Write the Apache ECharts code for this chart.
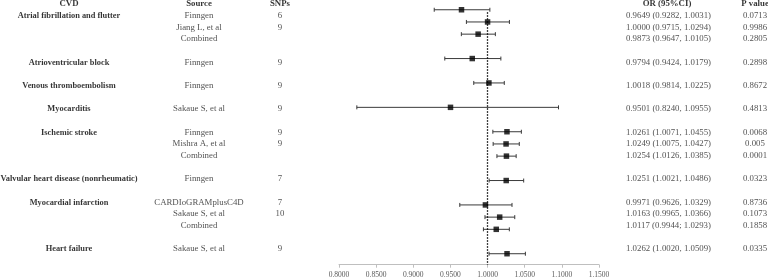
<!DOCTYPE html>
<html><head><meta charset="utf-8">
<script src="https://cdn.jsdelivr.net/npm/echarts@6/dist/echarts.min.js"></script>
<style>html,body{margin:0;padding:0;background:#fff}#c{width:768px;height:279px}</style>
</head><body><div id="c"></div>
<script>
// ---- data ----
const cvdNames = ['Atrial fibrillation and flutter','Atrioventricular block','Venous thromboembolism','Myocarditis','Ischemic stroke','Valvular heart disease (nonrheumatic)','Myocardial infarction','Heart failure'];
const cvdRows = [0,4,6,8,10,14,16,20];
const rowIdx = [0,1,2,4,6,8,10,11,12,14,16,17,18,20];
const sources = ['Finngen','Jiang L, et al','Combined','Finngen','Finngen','Sakaue S, et al','Finngen','Mishra A, et al','Combined','Finngen','CARDIoGRAMplusC4D','Sakaue S, et al','Combined','Sakaue S, et al'];
const snps = ['6','9','','9','9','9','9','9','','7','7','10','','9'];
const orVals = [0.9649,1.0000,0.9873,0.9794,1.0018,0.9501,1.0261,1.0249,1.0254,1.0251,0.9971,1.0163,1.0117,1.0262];
const ciLow = [0.9282,0.9715,0.9647,0.9424,0.9814,0.8240,1.0071,1.0075,1.0126,1.0021,0.9626,0.9965,0.9944,1.0020];
const ciHigh = [1.0031,1.0294,1.0105,1.0179,1.0225,1.0955,1.0455,1.0427,1.0385,1.0486,1.0329,1.0366,1.0293,1.0509];
const orText = ['0.9649 (0.9282, 1.0031)','1.0000 (0.9715, 1.0294)','0.9873 (0.9647, 1.0105)','0.9794 (0.9424, 1.0179)','1.0018 (0.9814, 1.0225)','0.9501 (0.8240, 1.0955)','1.0261 (1.0071, 1.0455)','1.0249 (1.0075, 1.0427)','1.0254 (1.0126, 1.0385)','1.0251 (1.0021, 1.0486)','0.9971 (0.9626, 1.0329)','1.0163 (0.9965, 1.0366)','1.0117 (0.9944; 1.0293)','1.0262 (1.0020, 1.0509)'];
const pVals = ['0.0713','0.9986','0.2805','0.2898','0.8672','0.4813','0.0068','0.005','0.0001','0.0323','0.8736','0.1073','0.1858','0.0335'];
const headers = ['CVD','Source','SNPs','OR (95%CI)','P value'];
const xTicks = [0.80,0.85,0.90,0.95,1.00,1.05,1.10,1.15];

// ---- layout ----
const colX = {cvd:69, src:199, snp:280, orL:626, orH:667, p:755};
const FONT = 'Liberation Serif';
const BOLD_SIZE = 8.4, REG_SIZE = 8.8;

const textSeries = (data, align, bold, size) => ({
  type:'scatter', xAxisIndex:1, yAxisIndex:1, symbolSize:0, silent:true,
  data,
  label:{show:true, position:'inside', align, verticalAlign:'middle',
    formatter:p=>p.value[2], fontFamily:FONT, fontSize:size,
    fontWeight:bold?'bold':'normal', color:bold?'#000':'#262626'}
});

const chart = echarts.init(document.getElementById('c'), null, {renderer:'canvas'});
chart.setOption({
  animation:false,
  grid:[
    {left:339, right:169, top:0, bottom:14.3},
    {left:0, right:0, top:0, bottom:0}
  ],
  xAxis:[
    {type:'value', gridIndex:0, min:xTicks[0], max:xTicks[xTicks.length-1], interval:0.05,
     axisLine:{onZero:false, lineStyle:{color:'#bfbfbf'}},
     axisTick:{show:true, length:3, lineStyle:{color:'#bfbfbf'}},
     splitLine:{show:false},
     axisLabel:{formatter:v=>v.toFixed(4), fontFamily:FONT, fontSize:7.5, color:'#595959', margin:6}},
    {type:'value', gridIndex:1, min:0, max:768, show:false}
  ],
  yAxis:[
    {type:'value', gridIndex:0, inverse:true, min:-0.8, max:20.9, show:false},
    {type:'value', gridIndex:1, inverse:true, min:-1.345, max:22.56, show:false}
  ],
  series:[
    {
      type:'custom', xAxisIndex:0, yAxisIndex:0,
      data: rowIdx.map((r,i)=>[ciLow[i], ciHigh[i], r]),
      encode:{x:[0,1], y:2},
      renderItem:(params, api)=>{
        const a = api.coord([api.value(0), api.value(2)]);
        const b = api.coord([api.value(1), api.value(2)]);
        const h = 2;
        const st = {stroke:'#3a3a3a', lineWidth:1};
        return {type:'group', children:[
          {type:'line', shape:{x1:a[0],y1:a[1],x2:b[0],y2:b[1]}, style:st},
          {type:'line', shape:{x1:a[0],y1:a[1]-h,x2:a[0],y2:a[1]+h}, style:st},
          {type:'line', shape:{x1:b[0],y1:b[1]-h,x2:b[0],y2:b[1]+h}, style:st}
        ]};
      },
      markLine:{silent:true, symbol:'none', label:{show:false},
        lineStyle:{color:'#000', type:[1.5,1.5], width:1.3},
        data:[[{coord:[1,0.2]},{coord:[1,20.9]}]]}
    },
    {
      type:'scatter', xAxisIndex:0, yAxisIndex:0, symbol:'rect', symbolSize:5.5,
      itemStyle:{color:'#000'}, z:5,
      data: rowIdx.map((r,i)=>[orVals[i], r])
    },
    textSeries([[colX.cvd,-1,headers[0]]],'center',true,BOLD_SIZE+0.4),
    textSeries([[colX.src,-1,headers[1]]],'center',true,BOLD_SIZE+0.4),
    textSeries([[colX.snp,-1,headers[2]]],'center',true,BOLD_SIZE+0.4),
    textSeries([[colX.orH,-1,headers[3]]],'center',true,BOLD_SIZE+0.4),
    textSeries([[colX.p,-1,headers[4]]],'center',true,BOLD_SIZE+0.4),
    textSeries(cvdRows.map((r,i)=>[colX.cvd, r, cvdNames[i]]),'center',true,BOLD_SIZE),
    textSeries(rowIdx.map((r,i)=>[colX.src, r, sources[i]]),'center',false,REG_SIZE),
    textSeries(rowIdx.map((r,i)=>[colX.snp, r, snps[i]]).filter(d=>d[2]!==''),'center',false,REG_SIZE),
    textSeries(rowIdx.map((r,i)=>[colX.orL, r, orText[i]]),'left',false,REG_SIZE),
    textSeries(rowIdx.map((r,i)=>[colX.p, r, pVals[i]]),'center',false,REG_SIZE)
  ]
});
</script></body></html>
